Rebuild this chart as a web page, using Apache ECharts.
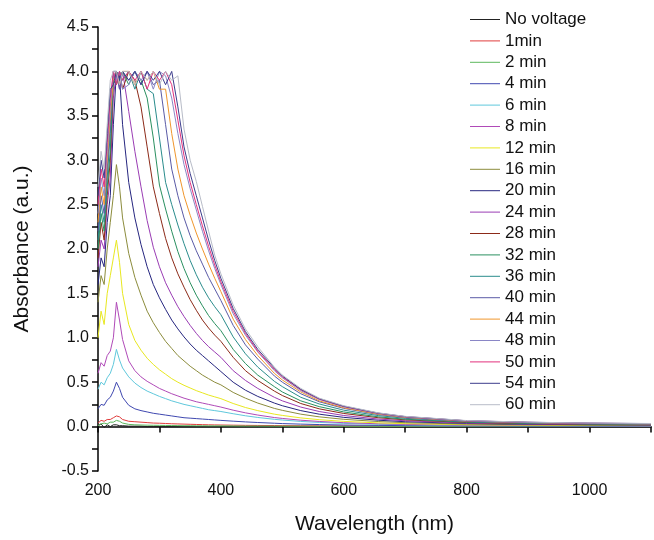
<!DOCTYPE html>
<html>
<head>
<meta charset="utf-8">
<script src="https://cdn.jsdelivr.net/npm/echarts@6/dist/echarts.min.js"></script>
<style>
html, body { margin: 0; padding: 0; background: #fff; }
#chart { width: 654px; height: 540px; }
</style>
</head>
<body>
<div id="chart"></div>
<script>
// wavelengths (nm)
var wavelength = [200,205,210,215,220,225,230,235,240,
  250,260,270,280,290,300,310,320,330,340,350,360,370,380,390,400,
  420,440,460,487,500,530,560,600,656,700,800,900,1000,1100];

var seriesNames = ['No voltage','1min','2 min','4 min','6 min','8 min','12 min','16 min','20 min',
  '24 min','28 min','32 min','36 min','40 min','44 min','48 min','50 min','54 min','60 min'];

var seriesColors = ['#222222','#e03c3c','#5cb85c','#3f48b0','#5fc8dc','#b04ab8','#e8e820','#8c8c3c','#262680',
  '#9a3cb4','#8c2a18','#2a9060','#2a8c8c','#5a5aa6','#f0962c','#8a86c6','#e2307c','#3c3c8c','#b8bcc8'];

// absorbance values
var noVoltage = [0.01,0.03,-0.01,0.02,0,0.02,0.02,0.01,0.01,
  0.005,0.005,0.005,0,0,0,0,0,0,0,0,0,0,0,0,0,
  0,0,0,0,0,0,0,0,0,-0.005,-0.005,-0.005,-0.005,-0.005];
var min1 = [0.04,0.07,0.06,0.08,0.08,0.1,0.12,0.11,0.08,
  0.06,0.055,0.05,0.045,0.04,0.038,0.035,0.032,0.03,0.028,0.026,0.024,0.022,0.02,0.019,0.018,
  0.016,0.014,0.013,0.012,0.011,0.01,0.009,0.008,0.007,0.006,0.005,0.004,0.004,0.003];
var min2 = [0.01,0.03,0.04,0.03,0.05,0.05,0.07,0.06,0.04,
  0.025,0.02,0.018,0.016,0.015,0.014,0.013,0.012,0.011,0.01,0.01,0.009,0.009,0.008,0.008,0.008,
  0.007,0.006,0.006,0.005,0.005,0.005,0.004,0.004,0.003,0.003,0.002,0.002,0.002,0.002];
var min4 = [0.2,0.25,0.24,0.3,0.33,0.4,0.5,0.43,0.33,
  0.24,0.2,0.18,0.165,0.15,0.14,0.13,0.12,0.11,0.1,0.095,0.09,0.085,0.08,0.075,0.07,
  0.061,0.053,0.046,0.038,0.034,0.028,0.023,0.018,0.014,0.011,0.008,0.006,0.005,0.004];
var min6 = [0.42,0.5,0.47,0.55,0.6,0.7,0.87,0.75,0.66,
  0.56,0.49,0.44,0.4,0.37,0.34,0.315,0.29,0.27,0.25,0.235,0.22,0.205,0.19,0.18,0.17,
  0.145,0.122,0.103,0.082,0.074,0.058,0.047,0.036,0.026,0.021,0.014,0.011,0.009,0.008];
var min8 = [0.6,0.72,0.68,0.8,0.85,1.0,1.4,1.2,0.98,
  0.74,0.63,0.56,0.51,0.47,0.43,0.4,0.37,0.345,0.32,0.3,0.28,0.265,0.25,0.235,0.22,
  0.185,0.155,0.13,0.102,0.092,0.072,0.058,0.044,0.032,0.025,0.016,0.012,0.01,0.009];
var min12 = [1.0,1.3,1.15,1.5,1.7,1.9,2.1,1.85,1.5,
  1.15,0.97,0.86,0.77,0.7,0.64,0.59,0.54,0.5,0.465,0.435,0.405,0.38,0.355,0.335,0.315,
  0.26,0.215,0.18,0.14,0.126,0.098,0.078,0.059,0.042,0.033,0.021,0.016,0.013,0.011];
var min16 = [1.4,1.7,1.6,2.0,2.3,2.6,2.95,2.7,2.35,
  1.95,1.68,1.48,1.3,1.17,1.06,0.96,0.88,0.8,0.74,0.68,0.63,0.58,0.54,0.5,0.47,
  0.385,0.32,0.265,0.205,0.183,0.14,0.11,0.082,0.057,0.044,0.028,0.021,0.017,0.015];
var min20 = [1.6,1.9,1.8,2.3,2.6,3.4,4.0,3.95,3.4,
  2.75,2.35,2.05,1.8,1.6,1.45,1.32,1.2,1.1,1.01,0.93,0.86,0.8,0.74,0.68,0.62,
  0.5,0.41,0.34,0.265,0.235,0.18,0.14,0.104,0.072,0.055,0.035,0.026,0.021,0.018];
var min24 = [1.8,2.1,2.0,2.5,2.8,3.7,4.0,3.8,4.0,
  3.55,3.1,2.7,2.32,2.02,1.8,1.62,1.48,1.35,1.24,1.14,1.05,0.97,0.9,0.84,0.78,
  0.63,0.52,0.43,0.33,0.29,0.22,0.17,0.125,0.085,0.065,0.04,0.03,0.024,0.021];
var min28 = [1.9,2.3,2.1,2.6,3.0,3.9,3.85,4.0,3.8,
  4.0,3.9,3.6,3.15,2.7,2.4,2.12,1.9,1.72,1.57,1.43,1.31,1.2,1.11,1.03,0.96,
  0.78,0.63,0.52,0.4,0.35,0.26,0.2,0.148,0.1,0.076,0.046,0.034,0.028,0.024];
var min32 = [2.0,2.4,2.2,2.7,3.1,4.0,4.0,3.9,4.0,
  3.85,4.0,3.9,3.7,3.25,2.72,2.45,2.2,1.97,1.78,1.62,1.48,1.36,1.25,1.16,1.08,
  0.87,0.71,0.58,0.45,0.39,0.29,0.225,0.165,0.11,0.083,0.05,0.037,0.03,0.026];
var min36 = [2.1,2.5,2.3,2.8,3.3,3.9,3.85,4.0,3.9,
  4.0,3.8,4.0,3.8,3.75,3.25,2.75,2.5,2.27,2.06,1.87,1.71,1.57,1.45,1.35,1.26,
  1.01,0.82,0.67,0.51,0.45,0.33,0.255,0.185,0.124,0.093,0.056,0.041,0.032,0.028];
var min40 = [2.2,2.6,2.4,2.9,3.4,4.0,4.0,3.8,4.0,
  3.9,4.0,3.85,4.0,3.85,3.9,3.4,2.9,2.6,2.35,2.15,1.98,1.83,1.68,1.55,1.42,
  1.14,0.92,0.76,0.57,0.5,0.37,0.28,0.205,0.136,0.1,0.059,0.043,0.034,0.03];
var min44 = [2.3,2.7,2.5,3.0,3.5,3.9,4.0,3.85,4.0,
  4.0,3.85,4.0,3.9,4.0,3.8,3.8,3.3,2.9,2.6,2.38,2.18,2.0,1.83,1.67,1.52,
  1.21,0.98,0.8,0.6,0.525,0.39,0.29,0.212,0.14,0.104,0.061,0.045,0.035,0.031];
var min48 = [2.4,2.8,2.6,3.1,3.6,4.0,3.9,4.0,3.8,
  3.85,4.0,3.9,4.0,3.8,4.0,3.95,3.7,3.3,2.95,2.68,2.44,2.2,1.98,1.78,1.6,
  1.27,1.03,0.84,0.63,0.55,0.405,0.305,0.222,0.147,0.108,0.064,0.047,0.037,0.032];
var min50 = [2.5,2.9,2.7,3.2,3.7,4.0,3.85,4.0,3.9,
  4.0,3.9,4.0,3.8,4.0,3.9,4.0,3.85,3.45,3.05,2.75,2.5,2.26,2.03,1.82,1.63,
  1.3,1.05,0.85,0.645,0.56,0.415,0.31,0.227,0.15,0.111,0.065,0.048,0.038,0.033];
var min54 = [2.6,3.0,2.8,3.3,3.8,3.85,4.0,3.9,4.0,
  3.9,4.0,3.85,4.0,3.9,4.0,3.85,4.0,3.6,3.15,2.85,2.6,2.35,2.1,1.87,1.67,
  1.33,1.07,0.87,0.66,0.57,0.42,0.315,0.23,0.152,0.113,0.066,0.049,0.039,0.034];
var min60 = [2.7,3.1,2.9,3.4,3.9,4.0,4.0,3.85,4.0,
  4.0,3.85,4.0,3.9,4.0,3.85,4.0,3.9,3.95,3.35,3.0,2.76,2.48,2.2,1.93,1.72,
  1.37,1.1,0.9,0.67,0.58,0.43,0.32,0.235,0.155,0.115,0.068,0.05,0.04,0.035];

var seriesValues = [noVoltage,min1,min2,min4,min6,min8,min12,min16,min20,
  min24,min28,min32,min36,min40,min44,min48,min50,min54,min60];

var chart = echarts.init(document.getElementById('chart'), null, { renderer: 'canvas' });

var series = seriesNames.map(function (name, k) {
  return {
    name: name,
    type: 'line',
    symbol: 'none',
    smooth: false,
    animation: false,
    lineStyle: { width: 1, color: seriesColors[k] },
    itemStyle: { color: seriesColors[k] },
    data: wavelength.map(function (x, i) { return [x, seriesValues[k][i]]; })
  };
});

var option = {
  backgroundColor: '#ffffff',
  animation: false,
  textStyle: { fontFamily: 'Liberation Sans, Arial, sans-serif' },
  grid: { left: 98, right: 2, top: 27, bottom: 66, containLabel: false },
  legend: {
    orient: 'vertical',
    left: 465,
    top: 6,
    icon: 'rect',
    itemWidth: 30,
    itemHeight: 1,
    itemGap: 4.4,
    textStyle: { fontSize: 17, color: '#111' },
    data: seriesNames
  },
  xAxis: {
    type: 'value',
    min: 200,
    max: 1100,
    interval: 100,
    name: 'Wavelength (nm)',
    nameLocation: 'middle',
    nameGap: 43,
    nameTextStyle: { fontSize: 21, color: '#111' },
    axisLine: { show: true, lineStyle: { color: '#000', width: 1.5 } },
    axisTick: { show: true, inside: false, length: 6, lineStyle: { color: '#000', width: 1.5 } },
    axisLabel: {
      fontSize: 16, color: '#111', margin: 12,
      formatter: function (v) { return v % 200 === 0 ? String(v) : ''; }
    },
    splitLine: { show: false }
  },
  yAxis: {
    type: 'value',
    min: -0.5,
    max: 4.5,
    interval: 0.25,
    name: 'Absorbance (a.u.)',
    nameLocation: 'middle',
    nameGap: 65,
    nameTextStyle: { fontSize: 21, color: '#111' },
    axisLine: { show: true, lineStyle: { color: '#000', width: 1.5 } },
    axisTick: { show: true, inside: false, length: 6, lineStyle: { color: '#000', width: 1.5 } },
    axisLabel: {
      fontSize: 16, color: '#111', margin: 9,
      formatter: function (v) { return Math.abs(v * 2 - Math.round(v * 2)) < 1e-9 ? v.toFixed(1) : ''; }
    },
    splitLine: { show: false }
  },
  series: series
};

chart.setOption(option);
</script>
</body>
</html>
